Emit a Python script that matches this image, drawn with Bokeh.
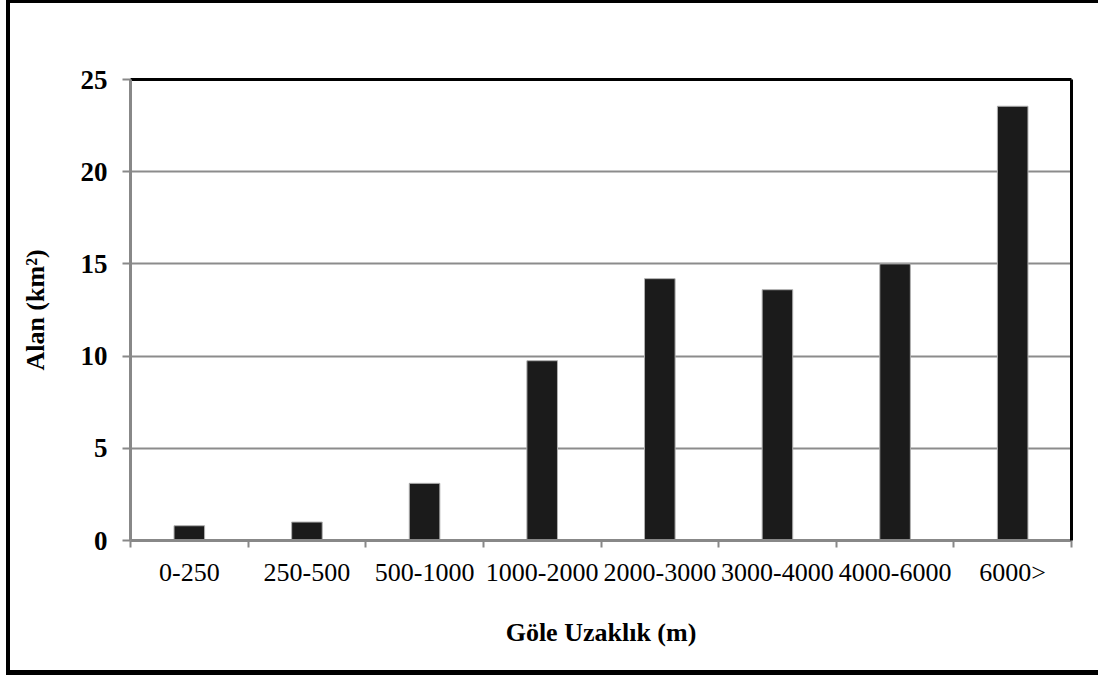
from bokeh.plotting import figure
from bokeh.models import FixedTicker, LinearAxis, Range1d
from bokeh.embed import file_html
from bokeh.resources import INLINE

categories = ["0-250", "250-500", "500-1000", "1000-2000", "2000-3000", "3000-4000", "4000-6000", "6000>"]
values = [0.8, 1.0, 3.1, 9.75, 14.2, 13.6, 15.0, 23.55]
y_ticks = [0, 5, 10, 15, 20, 25]

FONT = "Liberation Serif"
xpos = [i + 0.5 for i in range(len(categories))]

p = figure(width=1098, height=675, output_backend="svg", toolbar_location=None,
           x_range=Range1d(0, len(categories)), y_range=Range1d(0, 25),
           min_border_left=130, min_border_right=27, min_border_top=79, min_border_bottom=135)
p.outline_line_color = None
p.background_fill_color = "white"
p.border_fill_color = "white"
p.border_fill_alpha = 0.0

p.vbar(x=xpos, top=values, width=0.26, fill_color="#1b1b1b", line_color="#b0b0b0", line_width=1)

# x axis
xa = p.xaxis[0]
xa.ticker = FixedTicker(ticks=xpos, minor_ticks=list(range(len(categories) + 1)))
xa.major_label_overrides = {x: c for x, c in zip(xpos, categories)}
xa.major_tick_line_color = None
xa.major_tick_out = 0
xa.major_tick_in = 0
xa.minor_tick_line_color = "#888888"
xa.minor_tick_line_width = 2
xa.minor_tick_out = 7
xa.minor_tick_in = 0
xa.axis_line_color = "#888888"
xa.axis_line_width = 3
xa.major_label_text_font = FONT
xa.major_label_text_font_size = "26px"
xa.major_label_text_color = "black"
xa.major_label_standoff = 10
xa.axis_label = "Göle Uzaklık (m)"
xa.axis_label_text_font = FONT
xa.axis_label_text_font_style = "bold"
xa.axis_label_text_font_size = "26px"
xa.axis_label_text_color = "black"
xa.axis_label_standoff = 28

# y axis
ya = p.yaxis[0]
ya.ticker = FixedTicker(ticks=y_ticks)
ya.minor_tick_line_color = None
ya.major_tick_line_color = "#888888"
ya.major_tick_line_width = 2
ya.major_tick_out = 8
ya.major_tick_in = 0
ya.axis_line_color = "#888888"
ya.axis_line_width = 3
ya.major_label_text_font = FONT
ya.major_label_text_font_style = "bold"
ya.major_label_text_font_size = "27px"
ya.major_label_text_color = "black"
ya.major_label_standoff = 15
ya.axis_label = "Alan (km²)"
ya.axis_label_text_font = FONT
ya.axis_label_text_font_style = "bold"
ya.axis_label_text_font_size = "26px"
ya.axis_label_text_color = "black"
ya.axis_label_standoff = 28

# grid
p.xgrid.grid_line_color = None
p.ygrid.grid_line_color = "#8c8c8c"
p.ygrid.grid_line_width = 2

# top and right frame lines
for loc in ("above", "right"):
    ax = LinearAxis(ticker=FixedTicker(ticks=[]), axis_line_color="black", axis_line_width=3,
                    major_tick_line_color=None, minor_tick_line_color=None,
                    major_label_text_font_size="0px")
    p.add_layout(ax, loc)

p.styles = {
    "background-color": "white",
    "box-shadow": "inset 6px 0 0 0 white, inset 10px 0 0 0 black, inset 0 3px 0 0 black, inset 0 -5px 0 0 black",
}

open("out.html", "w").write(file_html(p, INLINE))
